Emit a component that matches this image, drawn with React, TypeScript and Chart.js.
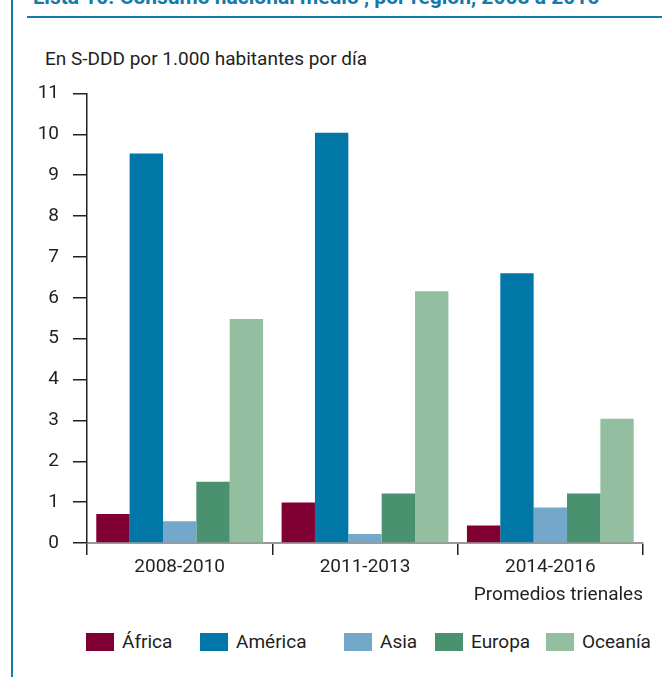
import React, { useEffect, useRef } from "react";
import { Chart, registerables } from "chart.js";

Chart.register(...registerables);

// ---- Data ----
const categories = ["2008-2010", "2011-2013", "2014-2016"];
const seriesNames = ["África", "América", "Asia", "Europa", "Oceanía"];
const africa = [0.71, 0.99, 0.43];
const america = [9.53, 10.04, 6.6];
const asia = [0.53, 0.22, 0.87];
const europa = [1.5, 1.21, 1.21];
const oceania = [5.48, 6.16, 3.04];
const seriesColors = ["#800034", "#0077a6", "#74a8cb", "#4a9170", "#93bfa0"];
const yMin = 0;
const yMax = 11;
const yStep = 1;

const titleText = "Lista 10. Consumo nacional medio , por región, 2008 a 2016";
const yTitle = "En S-DDD por 1.000 habitantes por día";
const xTitle = "Promedios trienales";

const FONT = 'Roboto, "Liberation Sans", sans-serif';
const FS = 19;
const TEXT = "#231f20";
const BLUE = "#1479ab";

const legendLeft = [86, 200, 344, 435, 546];

export default function App() {
  const ref = useRef<HTMLCanvasElement>(null);

  useEffect(() => {
    document.body.style.margin = "0";
    const seriesData = [africa, america, asia, europa, oceania];
    const chart = new Chart(ref.current as HTMLCanvasElement, {
      type: "bar",
      data: {
        labels: categories,
        datasets: seriesNames.map((name, i) => ({
          label: name,
          data: seriesData[i],
          backgroundColor: seriesColors[i],
          borderWidth: 0,
          categoryPercentage: 0.9,
          barPercentage: 1.0,
        })),
      },
      options: {
        animation: false,
        responsive: false,
        maintainAspectRatio: false,
        layout: { padding: { left: 0, right: 19, top: 0, bottom: 0 } },
        plugins: {
          legend: { display: false },
          tooltip: { enabled: false },
          title: { display: false },
        },
        scales: {
          x: {
            grid: {
              display: true,
              drawOnChartArea: false,
              drawTicks: true,
              tickLength: 12,
              color: TEXT,
              lineWidth: 1.5,
              offset: true,
            },
            border: { display: true, color: "#9a9a9a", width: 2 },
            ticks: { color: TEXT, font: { family: FONT, size: FS }, padding: 1 },
            afterFit: (s: any) => {
              s.height = 77;
            },
          },
          y: {
            min: yMin,
            max: yMax,
            ticks: { stepSize: yStep, color: TEXT, font: { family: FONT, size: FS }, padding: 14 },
            grid: { drawOnChartArea: false, tickLength: 14, color: TEXT, lineWidth: 1.5 },
            border: { display: true, color: TEXT, width: 1.5 },
            afterFit: (s: any) => {
              s.width = 87;
            },
          },
        },
      },
    });
    return () => chart.destroy();
  }, []);

  return (
    <div
      style={{
        position: "relative",
        width: 662,
        height: 677,
        overflow: "hidden",
        background: "#fff",
        fontFamily: FONT,
        color: TEXT,
      }}
    >
      <div style={{ position: "absolute", left: 11, top: 0, width: 1.5, height: 677, background: BLUE }} />
      <div style={{ position: "absolute", left: 27, top: 16, right: 0, height: 1.5, background: BLUE }} />
      <div
        style={{
          position: "absolute",
          left: 33,
          top: -14,
          fontSize: 21,
          lineHeight: "22px",
          fontWeight: "bold",
          color: BLUE,
          whiteSpace: "nowrap",
        }}
      >
        {titleText}
      </div>
      <div
        style={{
          position: "absolute",
          left: 45,
          top: 49,
          fontSize: FS,
          lineHeight: "20px",
          whiteSpace: "nowrap",
        }}
      >
        {yTitle}
      </div>
      <canvas
        ref={ref}
        width={662}
        height={552}
        style={{ position: "absolute", left: 0, top: 68, width: 662, height: 552 }}
      />
      <div
        style={{
          position: "absolute",
          right: 19,
          top: 584,
          fontSize: FS,
          lineHeight: "20px",
          whiteSpace: "nowrap",
        }}
      >
        {xTitle}
      </div>
      {seriesNames.map((name, i) => (
        <div
          key={name}
          style={{
            position: "absolute",
            left: legendLeft[i],
            top: 631,
            height: 22,
            display: "flex",
            alignItems: "center",
            whiteSpace: "nowrap",
          }}
        >
          <span
            style={{
              display: "inline-block",
              width: 28,
              height: 18,
              background: seriesColors[i],
              marginRight: 8,
            }}
          />
          <span style={{ fontSize: FS, lineHeight: "22px" }}>{name}</span>
        </div>
      ))}
    </div>
  );
}
